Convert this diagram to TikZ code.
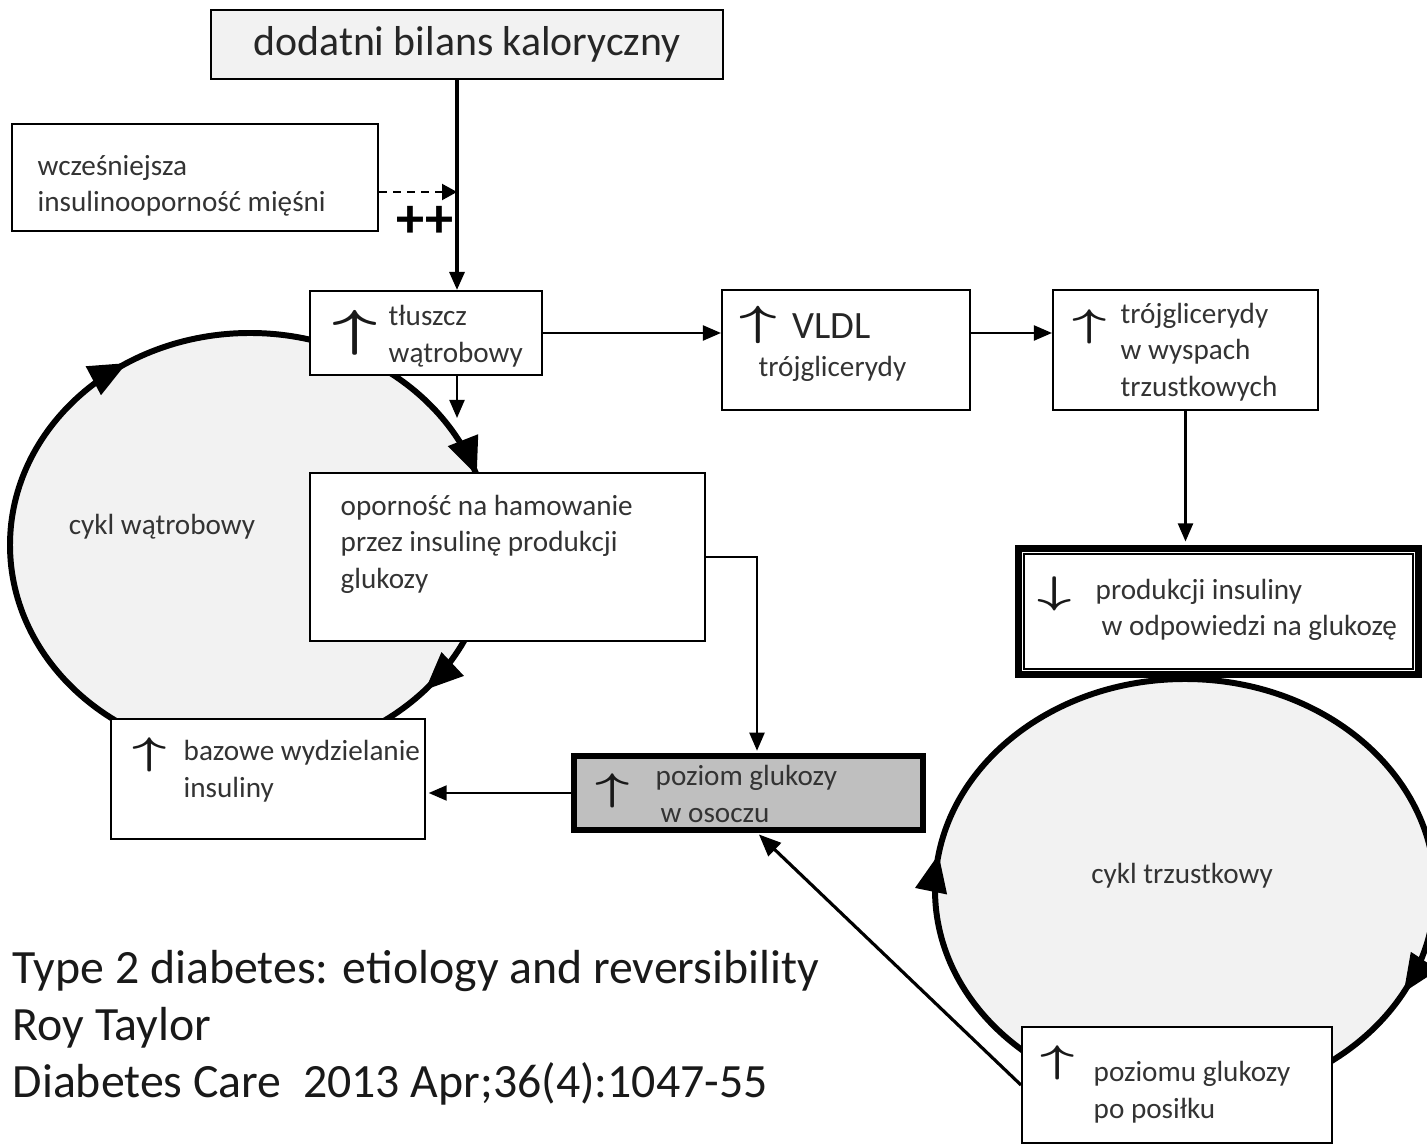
\documentclass[tikz,border=0pt]{standalone}
\usepackage{graphicx}
\usepackage{fontspec}
\setmainfont{Carlito}
\usetikzlibrary{arrows.meta,decorations.markings}

\newcommand{\upar}{\scalebox{1.55}[1]{\boldmath$\uparrow$}}
\newcommand{\dnar}{\scalebox{1.55}[1]{\boldmath$\downarrow$}}

\tikzset{
  box/.style={draw, line width=0.6pt, fill=white, inner sep=0pt},
  txt/.style={anchor=west, align=left, inner sep=0pt, text=black!80, font=\fontsize{8.3}{10.4}\selectfont},
  sym/.style={inner sep=0pt, text=black!90, font=\fontsize{11}{11}\selectfont},
  arr/.style={line width=0.6pt, -{Triangle[length=1.8mm,width=1.5mm]}},
  cyc/.style={line width=1.7pt, fill=black!5, postaction={decorate}},
  /pgf/decoration/bigtip/.style={mark=at position #1 with {\arrowreversed{Triangle[length=3.8mm,width=3.1mm]}}},
}

\begin{document}
\begin{tikzpicture}
   \useasboundingbox (0,0) rectangle (14.27,-11.47);

   % cykle
   \draw [cyc, decoration={markings, bigtip=0.05, bigtip=0.34, bigtip=0.885}]
      (2.50,-5.45) ellipse [x radius=2.40, y radius=2.12];
   \draw [cyc, decoration={markings, bigtip=0.475, bigtip=0.925}]
      (11.85,-8.90) ellipse [x radius=2.50, y radius=2.11];
   \node [txt, anchor=center] (liver) at (1.62,-5.27) {cykl wątrobowy};
   \node [txt, anchor=center] (pancreas) at (11.82,-8.76) {cykl trzustkowy};

   % pudełka
   \node [box, fill=black!5, minimum width=5.12cm, minimum height=0.69cm, text=black!85,
      font=\fontsize{11.9}{14}\selectfont] (title) at (4.67,-0.445) {dodatni bilans kaloryczny};
   \node [box, minimum width=3.66cm, minimum height=1.07cm] (wcz) at (1.95,-1.775) {};
   \node [box, minimum width=2.32cm, minimum height=0.84cm] (fat) at (4.26,-3.33) {};
   \node [box, minimum width=2.48cm, minimum height=1.20cm] (vldl) at (8.46,-3.50) {};
   \node [box, minimum width=2.65cm, minimum height=1.20cm] (tri) at (11.855,-3.50) {};
   \node [box, line width=2pt, minimum width=4.00cm, minimum height=1.26cm] (ins) at (12.185,-6.115) {};
   \draw [line width=0.6pt] ([shift={(0.09,-0.09)}]ins.north west) rectangle ([shift={(-0.09,0.09)}]ins.south east);
   \node [box, minimum width=3.95cm, minimum height=1.68cm] (opo) at (5.075,-5.57) {};
   \node [box, minimum width=3.14cm, minimum height=1.20cm] (baz) at (2.68,-7.79) {};
   \node [box, fill=black!25, line width=1.5pt, minimum width=3.49cm, minimum height=0.74cm] (glu) at (7.485,-7.93) {};
   \node [box, minimum width=3.10cm, minimum height=1.16cm] (poz) at (11.77,-10.85) {};

   % strzałki
   \coordinate (trunk) at (4.57,0);
   \coordinate (drop) at (7.57,0);
   \coordinate (fat-end) at (4.57,-4.18);
   \draw [arr, line width=0.9pt] (title.south -| trunk) -- (fat.north -| trunk);
   \draw [dashed, dash pattern=on 0.8mm off 0.6mm, line width=0.6pt, -{Triangle[length=1.5mm,width=1.6mm]}]
      ([yshift=-1.45mm]wcz.east) -- ([yshift=-1.45mm]wcz.east -| trunk);
   \node [inner sep=0pt, font=\fontsize{16}{16}\bfseries\selectfont] (plus) at (4.25,-2.22) {++};
   \draw [arr] (fat.south -| trunk) -- (fat-end);
   \draw [arr] (fat.east) -- (fat.east -| vldl.west);
   \draw [arr] (fat.east -| vldl.east) -- (fat.east -| tri.west);
   \draw [arr, shorten >=1pt] (tri.south) -- (tri.south |- ins.north);
   \draw [arr, shorten >=0.75pt] (opo.east) -| (glu.north -| drop);
   \draw [arr, shorten >=0.75pt] (glu.west) -- (glu.west -| baz.east);
   \draw [line width=0.9pt, -{Triangle[length=2.2mm,width=1.8mm]}, shorten >=0.75pt] (poz.west) -- (glu.south -| drop);

   % napisy
   \node [txt] (wcz-t) at (0.37,-1.86) {wcześniejsza\\insulinooporność mięśni};
   \node [sym, font=\fontsize{14}{14}\selectfont] (fat-a) at (3.55,-3.33) {\upar};
   \node [txt] (fat-t) at (3.88,-3.36) {tłuszcz\\wątrobowy};
   \node [sym, font=\fontsize{12.5}{12.5}\selectfont] (vldl-a) at (7.58,-3.25) {\upar};
   \node [txt, text=black!85, font=\fontsize{11}{13}\selectfont] (vldl-t) at (7.92,-3.26) {VLDL};
   \node [txt] (vldl-t2) at (7.58,-3.69) {trójglicerydy};
   \node [sym] (tri-a) at (10.90,-3.27) {\upar};
   \node [txt] (tri-t) at (11.20,-3.52) {trójglicerydy\\w wyspach\\trzustkowych};
   \node [sym] (ins-a) at (10.55,-5.94) {\dnar};
   \node [txt] (ins-t) at (10.95,-6.10) {produkcji insuliny\\\hspace{0.6mm}w odpowiedzi na glukozę};
   \node [txt] (opo-t) at (3.40,-5.44) {oporność na hamowanie\\przez insulinę produkcji\\glukozy};
   \node [sym] (baz-a) at (1.50,-7.55) {\upar};
   \node [txt] (baz-t) at (1.83,-7.71) {bazowe wydzielanie\\insuliny};
   \node [sym] (glu-a) at (6.13,-7.91) {\upar};
   \node [txt] (glu-t) at (6.55,-7.94) {poziom glukozy\\\hspace{0.5mm}w osoczu};
   \node [sym] (poz-a) at (10.58,-10.63) {\upar};
   \node [txt] (poz-t) at (10.93,-10.92) {poziomu glukozy\\po posiłku};

   % źródło
   \node [txt, text=black!90, font=\fontsize{13.6}{16.2}\selectfont] (source) at (0.12,-10.28)
      {Type 2 diabetes: etiology and reversibility\\Roy Taylor\\Diabetes Care\ \ 2013 Apr;36(4):1047-55};
\end{tikzpicture}
\end{document}
